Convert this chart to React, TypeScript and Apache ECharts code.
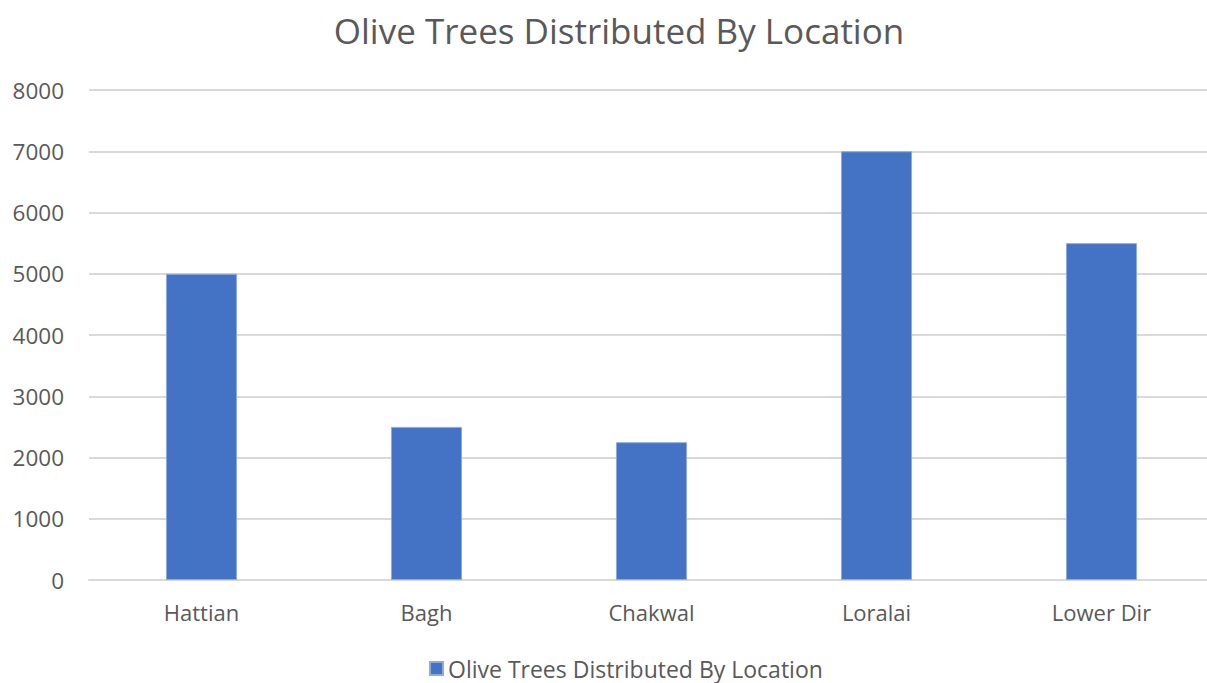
import React, { useEffect, useRef } from "react";
import * as echarts from "echarts";

const categories = ["Hattian", "Bagh", "Chakwal", "Loralai", "Lower Dir"];
const values = [5000, 2500, 2250, 7000, 5500];
const seriesName = "Olive Trees Distributed By Location";
const titleText = "Olive Trees Distributed By Location";

export default function App() {
  const ref = useRef<HTMLDivElement>(null);
  useEffect(() => {
    if (!ref.current) return;
    const chart = echarts.init(ref.current, null, { renderer: "svg" });
    const font = "'Open Sans', 'Noto Sans', sans-serif";
    chart.setOption({
      animation: false,
      backgroundColor: "#ffffff",
      textStyle: { fontFamily: font },
      title: {
        text: titleText,
        left: 614,
        textAlign: "center",
        top: 8,
        textStyle: { fontFamily: font, fontSize: 35, fontWeight: "normal", color: "#595959" },
      },
      legend: {
        bottom: -2,
        left: 424,
        itemWidth: 13,
        itemHeight: 13,
        icon: "rect",
        itemGap: 6,
        textStyle: { fontFamily: font, fontSize: 23, color: "#595959" },
        data: [seriesName],
      },
      grid: {
        left: 89,
        width: 1125,
        top: 90,
        height: 490,
        containLabel: false,
        outerBoundsMode: "none",
      },
      xAxis: {
        type: "category",
        data: categories,
        axisLine: { show: true, lineStyle: { color: "#d9d9d9", width: 2 } },
        axisTick: { show: false },
        axisLabel: { fontFamily: font, fontSize: 22, color: "#595959", margin: 21 },
      },
      yAxis: {
        type: "value",
        min: 0,
        max: 8000,
        interval: 1000,
        axisLine: { show: false },
        axisTick: { show: false },
        splitLine: { lineStyle: { color: "#d9d9d9", width: 2 } },
        axisLabel: {
          fontFamily: font,
          fontSize: 22.5,
          color: "#595959",
          margin: 25,
          formatter: (v: number) => String(v),
        },
      },
      series: [
        {
          name: seriesName,
          type: "bar",
          data: values,
          barWidth: "31.6%",
          itemStyle: { color: "#4472c4", borderColor: "#8faadc", borderWidth: 1 },
        },
      ],
    });
    return () => chart.dispose();
  }, []);
  return (
    <div
      ref={ref}
      style={{ position: "fixed", left: 0, top: 0, width: 1207, height: 683, background: "#fff" }}
    />
  );
}
